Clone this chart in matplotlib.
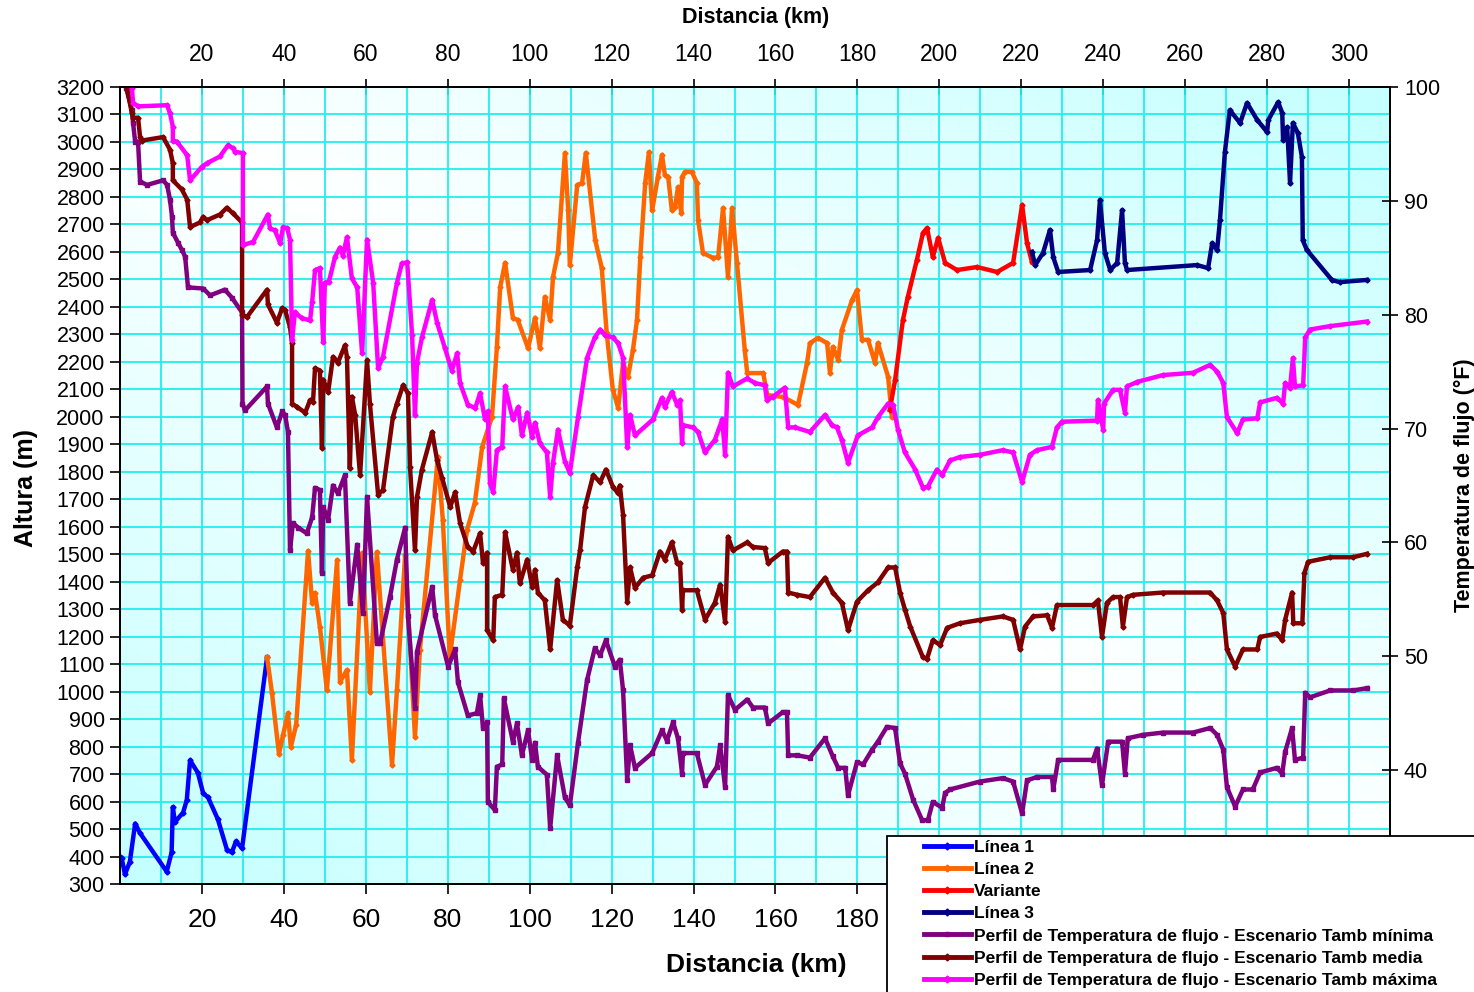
import numpy as np
import matplotlib
matplotlib.use("Agg")
import matplotlib.pyplot as plt
from matplotlib.patches import Rectangle
from matplotlib.lines import Line2D
from matplotlib.ticker import MultipleLocator

plt.rcParams['font.family'] = ['Liberation Sans', 'DejaVu Sans']

########################################################################
# data (distance in km, altitude in m, temperature in degF)

linea1_km = [0, 0.4, 1.2, 2.4, 3.7, 4.9, 11.4, 12.6, 12.9, 13.4, 15.4, 16.3, 17.1, 19.0, 20.3,
             21.5, 23.9, 26.1, 27.3, 28.3, 29.8, 35.9]
linea1_alt = [400, 395, 335, 380, 520, 485, 345, 415, 580, 525, 560, 605, 750, 705, 630,
              615, 535, 425, 415, 455, 430, 1125]

linea2_km = [35.9, 37.1, 38.8, 39.8, 41.0, 41.7, 43.0, 45.9, 46.9, 47.6, 48.8, 50.5, 53.0, 53.7,
             55.4, 56.6, 59.1, 61.0, 62.7, 66.4, 67.6, 69.6, 72.0, 73.2, 77.6, 78.8, 80.5, 83.0,
             84.7, 86.6, 88.4, 90.8, 92.0, 92.8, 94.0, 95.9, 97.1, 99.6, 101.3, 102.5, 103.7,
             105.0, 105.7, 106.9, 108.6, 109.4, 109.8, 111.6, 112.8, 113.7, 116.0, 117.6, 118.8,
             120.3, 121.6, 122.8, 124.0, 125.2, 126.2, 127.0, 128.2, 129.1, 129.9, 131.3, 132.3,
             133.0, 133.8, 134.7, 135.5, 136.2, 137.0, 137.2, 137.9, 139.6, 140.8, 141.1, 142.3,
             144.8, 146.0, 147.2, 148.4, 149.4, 150.6, 152.5, 153.1, 157.0, 158.0, 161.9, 165.5,
             167.7, 168.4, 170.4, 172.6, 173.3, 174.0, 175.3, 176.2, 178.7, 179.9, 181.1, 182.6,
             184.3, 185.0, 187.5, 188.4]
linea2_alt = [1125, 995, 773, 842, 922, 798, 879, 1512, 1322, 1359, 1235, 1006, 1479, 1035,
              1079, 751, 1504, 999, 1508, 733, 1006, 1497, 835, 1151, 1854, 1624, 1126, 1406,
              1588, 1686, 1890, 2000, 2254, 2472, 2560, 2360, 2352, 2250, 2360, 2250, 2436,
              2352, 2509, 2596, 2960, 2752, 2552, 2843, 2851, 2960, 2643, 2541, 2305,
              2098, 2032, 2196, 2145, 2243, 2352, 2581, 2851, 2963, 2752, 2873, 2953,
              2880, 2873, 2752, 2763, 2836, 2742, 2873, 2891, 2891, 2851, 2716, 2596,
              2578, 2581, 2760, 2509, 2760, 2560, 2243, 2159, 2159, 2079, 2072, 2043,
              2196, 2268, 2287, 2268, 2159, 2254, 2207, 2316, 2425, 2461, 2280, 2280,
              2196, 2268, 2145, 2000]

variante_km = [187.9, 189.2, 191.1, 192.3, 194.5, 196.0, 197.0, 198.4, 199.7, 201.4, 204.3,
               209.2, 214.1, 218.0, 220.2, 221.4, 222.6]
variante_alt = [2025, 2134, 2352, 2436, 2570, 2669, 2687, 2581, 2651, 2560, 2534,
                2545, 2527, 2560, 2771, 2632, 2563]

linea3_km = [222.6, 223.4, 225.3, 227.0, 227.8, 229.0, 236.8, 238.5, 239.2, 240.4, 241.7, 243.4,
             244.6, 245.3, 245.8, 262.9, 265.6, 266.6, 267.8, 268.5, 269.7, 270.9, 273.4, 275.1,
             277.6, 280.0, 280.3, 282.7, 283.7, 283.9, 284.9, 285.6, 286.3, 287.5, 288.5, 288.7,
             289.7, 295.8, 297.7, 304.4]
linea3_alt = [2600, 2552, 2596, 2680, 2581, 2527, 2534, 2643, 2789, 2596, 2534, 2560,
              2752, 2560, 2534, 2552, 2541, 2632, 2607, 2716, 2963, 3116, 3069, 3142,
              3080, 3036, 3080, 3145, 3105, 3007, 3054, 2851, 3069, 3033, 2945, 2643,
              2607, 2498, 2490, 2498]

tmin_km = [1.5, 2.9, 3.2, 3.7, 4.4, 4.9, 6.6, 10.5, 11.5, 12.2, 12.7, 12.9, 14.2, 15.1, 15.9,
           16.6, 20.3, 22.0, 25.6, 27.3, 29.8, 29.9, 30.5, 35.9, 36.1, 38.3, 39.6, 40.3, 41.0,
           41.5, 42.2, 43.5, 45.6, 46.9, 47.6, 48.8, 49.3, 49.6, 50.8, 52.0, 53.2, 54.9, 56.1,
           57.9, 59.3, 60.3, 62.7, 63.5, 65.9, 67.6, 69.6, 70.3, 72.0, 72.5, 76.2, 76.9, 80.1,
           81.8, 82.5, 84.9, 87.1, 87.9, 88.6, 89.6, 89.8, 91.5, 92.0, 93.3, 93.7, 95.9, 96.9,
           98.1, 99.6, 100.6, 101.3, 102.0, 104.2, 105.0, 106.7, 108.6, 109.8, 111.8, 114.0,
           115.9, 117.2, 118.6, 120.8, 122.0, 122.8, 123.8, 124.5, 125.7, 129.9, 132.3, 133.5,
           135.0, 136.2, 137.2, 137.4, 140.8, 142.8, 145.7, 146.5, 147.7, 148.4, 150.1, 153.1,
           154.5, 157.4, 158.2, 161.8, 162.8, 163.1, 165.3, 168.4, 172.1, 174.0, 175.3, 177.0,
           177.7, 179.9, 181.4, 183.6, 185.0, 187.2, 189.2, 190.4, 191.6, 193.6, 195.8, 197.2,
           198.4, 200.7, 201.4, 202.6, 209.9, 215.5, 218.0, 220.2, 221.4, 223.8, 227.5, 227.8,
           229.0, 237.5, 238.5, 239.7, 241.2, 244.6, 245.3, 246.0, 249.7, 254.6, 261.9, 266.1,
           267.8, 269.3, 270.2, 272.2, 274.1, 276.5, 278.3, 282.4, 283.7, 284.4, 286.1, 286.8,
           288.8, 289.3, 290.5, 295.4, 301.0, 304.4]
tmin_temp = [99.9, 98.0, 96.8, 95.2, 95.2, 91.7, 91.4, 91.8, 91.4, 90.1, 88.6, 87.2, 86.3, 85.7, 85.1,
             82.4, 82.3, 81.7, 82.2, 81.5, 80.2, 72.2, 71.6, 73.7, 72.2, 70.1, 71.5, 71.2, 69.7,
             59.3, 61.7, 61.3, 60.8, 62.2, 64.8, 64.6, 57.3, 63.1, 62.0, 65.0, 64.3, 65.9, 54.7,
             59.8, 53.8, 64.0, 51.2, 51.2, 55.2, 58.5, 61.3, 53.5, 45.5, 50.4, 56.1, 53.6, 49.1,
             50.6, 47.7, 44.8, 45.0, 46.6, 43.7, 44.2, 37.2, 36.5, 40.3, 40.5, 46.3, 42.5, 44.1,
             41.3, 43.5, 40.9, 42.4, 40.3, 39.6, 34.9, 41.3, 37.6, 36.9, 42.4, 47.9,
             50.7, 50.1, 51.4, 49.1, 49.7, 47.0, 39.1, 42.2, 40.2, 41.5, 43.5, 42.6,
             44.2, 42.8, 39.7, 41.5, 41.5, 38.7, 40.3, 42.2, 38.5, 46.6, 45.3, 46.2,
             45.5, 45.5, 44.1, 45.1, 45.1, 41.3, 41.3, 41.1, 42.8, 41.2, 40.2, 40.2,
             37.8, 40.7, 40.5, 41.8, 42.5, 43.8, 43.7, 40.6, 39.7, 37.4, 35.6, 35.6,
             37.2, 36.7, 38.0, 38.3, 39.0, 39.3, 39.0, 36.2, 39.1, 39.4, 39.4, 38.3,
             40.9, 40.9, 41.9, 38.7, 42.5, 42.5, 39.7, 42.8, 43.1, 43.3, 43.3, 43.7,
             43.1, 41.8, 38.5, 36.8, 38.3, 38.3, 39.8, 40.2, 39.7, 41.6, 43.7, 40.9,
             41.1, 46.8, 46.4, 47.0, 47.0, 47.2]

tmed_km = [1.7, 2.9, 3.2, 4.4, 4.9, 5.4, 10.5, 12.2, 12.9, 12.9, 15.1, 16.4, 17.1, 19.5, 20.3,
           21.2, 24.4, 26.1, 27.6, 29.8, 29.8, 31.0, 35.9, 36.1, 38.3, 39.6, 40.3, 41.5, 42.0,
           42.0, 43.2, 45.2, 46.4, 47.1, 47.6, 48.8, 49.3, 49.6, 50.8, 52.0, 53.2, 54.9, 55.4,
           56.1, 56.6, 57.4, 58.6, 60.3, 61.0, 63.0, 64.2, 66.6, 67.6, 69.1, 70.3, 70.8, 72.0,
           72.5, 73.7, 76.2, 77.4, 78.6, 80.6, 81.8, 83.0, 84.9, 86.2, 87.9, 88.6, 89.6, 89.6,
           91.1, 91.5, 93.3, 94.0, 95.9, 96.9, 97.6, 99.4, 100.6, 101.3, 102.0, 103.7, 105.0,
           106.7, 108.1, 109.8, 111.6, 112.3, 113.5, 115.5, 117.2, 118.6, 120.3, 121.6, 122.0,
           122.8, 123.8, 124.5, 125.7, 127.7, 129.9, 131.8, 133.0, 134.7, 136.0, 136.7, 137.2,
           137.4, 140.8, 142.8, 145.2, 146.5, 147.7, 148.4, 149.6, 153.1, 154.5, 157.4, 158.2,
           161.8, 162.8, 163.1, 165.3, 168.4, 172.1, 174.0, 176.2, 177.7, 179.9, 182.6, 185.0,
           187.5, 189.2, 190.4, 191.6, 192.9, 196.0, 197.0, 198.4, 200.2, 201.9, 205.0, 209.9,
           215.5, 218.0, 219.7, 220.9, 222.9, 226.3, 227.5, 228.7, 237.5, 238.7, 239.7, 240.9,
           242.4, 244.1, 244.8, 245.8, 247.3, 254.6, 266.1, 267.8, 269.3, 270.2, 272.2, 274.1,
           277.6, 278.3, 282.4, 283.7, 284.4, 286.1, 286.4, 288.6, 289.1, 290.0, 295.4, 301.0,
           304.4]
tmed_temp = [99.9, 97.7, 97.3, 97.3, 95.6, 95.3, 95.6, 94.5, 93.3, 91.8, 91.0, 90.1, 87.7, 88.1, 88.6,
             88.3, 88.8, 89.4, 88.9, 88.1, 80.0, 79.8, 82.2, 80.9, 79.3, 80.6, 80.4, 78.9, 77.5,
             72.2, 71.9, 71.4, 72.5, 72.3, 75.3, 75.1, 68.3, 74.3, 73.2, 76.3, 75.8, 77.3, 76.3,
             66.5, 72.8, 71.2, 65.9, 76.0, 72.2, 64.2, 64.6, 71.0, 72.2, 73.8, 73.1, 66.6, 59.3,
             64.0, 66.4, 69.7, 67.2, 65.7, 63.1, 64.4, 61.7, 59.6, 59.2, 60.8, 58.2, 59.1, 52.3,
             51.4, 55.2, 55.4, 60.9, 57.6, 59.1, 56.4, 58.5, 56.1, 57.6, 55.6, 54.9, 50.6,
             56.7, 53.2, 52.7, 57.8, 59.3, 63.1, 65.9, 65.3, 66.4, 64.9, 64.3, 65.0,
             62.4, 54.8, 57.8, 56.0, 56.9, 57.1, 59.2, 58.5, 60.0, 58.2, 58.2, 54.1,
             55.8, 55.8, 53.2, 54.7, 56.3, 53.0, 60.5, 59.3, 60.0, 59.6, 59.5, 58.2,
             59.2, 59.2, 55.6, 55.4, 55.2, 56.9, 55.6, 54.7, 52.3, 54.8, 55.8, 56.5,
             57.8, 57.8, 55.6, 54.1, 52.6, 49.9, 49.8, 51.4, 51.0, 52.5, 52.9, 53.2,
             53.5, 53.2, 50.6, 52.6, 53.5, 53.6, 52.5, 54.5, 54.5, 54.9, 51.7, 54.7,
             55.2, 55.2, 52.6, 55.2, 55.4, 55.6, 55.6, 54.9, 53.8, 50.6, 49.1, 50.6,
             50.6, 51.7, 52.0, 51.4, 53.2, 55.6, 52.9, 52.9, 57.3, 58.3, 58.7, 58.7,
             59.0]

tmax_km = [2.9, 3.2, 4.4, 11.5, 12.2, 12.9, 12.9, 13.9, 16.4, 17.1, 20.0, 21.2, 24.4, 26.4, 27.6,
           28.1, 30.0, 30.0, 32.5, 36.1, 36.6, 37.8, 39.1, 39.8, 40.8, 41.5, 42.0, 42.7, 44.4,
           46.4, 46.9, 47.6, 48.8, 49.6, 50.0, 51.0, 52.5, 53.7, 54.4, 55.4, 56.6, 57.9, 59.1,
           60.3, 61.8, 63.0, 64.2, 67.6, 68.8, 70.1, 71.3, 72.0, 72.5, 73.7, 76.2, 77.4, 79.3,
           81.0, 82.3, 83.0, 84.9, 86.7, 87.9, 89.1, 89.8, 90.3, 91.1, 92.0, 93.3, 94.0, 95.9,
           97.2, 98.1, 99.4, 100.6, 101.3, 102.5, 104.2, 105.0, 105.7, 106.9, 108.6, 109.8,
           111.8, 114.0, 115.9, 117.2, 118.4, 120.3, 121.6, 122.8, 123.8, 124.5, 125.7, 130.1,
           132.3, 133.0, 134.7, 136.0, 136.7, 137.2, 137.4, 139.9, 141.1, 142.8, 145.2, 147.0,
           147.7, 148.4, 149.6, 153.1, 155.0, 157.4, 157.9, 159.4, 162.3, 163.1, 164.8, 168.4,
           172.1, 173.8, 175.0, 176.2, 177.7, 180.1, 183.6, 185.0, 187.5, 188.7, 189.9, 191.6,
           194.1, 196.0, 197.2, 199.4, 200.7, 202.6, 205.0, 209.9, 215.5, 218.0, 220.2, 222.1,
           223.8, 227.5, 228.7, 229.9, 238.5, 238.7, 240.0, 240.2, 242.4, 244.1, 245.3, 245.8,
           248.3, 254.6, 261.9, 266.1, 267.8, 269.3, 270.2, 272.7, 274.1, 277.6, 278.3, 282.4,
           283.9, 284.4, 285.6, 286.3, 286.8, 288.8, 289.3, 290.5, 295.4, 304.4]
tmax_temp = [99.9, 98.6, 98.3, 98.4, 97.7, 96.5, 95.3, 95.2, 94.0, 91.8, 93.0, 93.3, 93.9, 94.9, 94.6,
             94.3, 94.2, 86.1, 86.4, 88.8, 87.6, 87.4, 86.3, 87.7, 87.6, 86.6, 77.8, 80.2, 79.7,
             79.5, 81.1, 83.9, 84.1, 77.6, 82.8, 82.9, 85.1, 85.9, 85.2, 86.8, 83.2, 82.4, 76.6,
             86.6, 82.8, 75.3, 76.3, 82.8, 84.5, 84.6, 78.2, 71.2, 75.8, 78.0, 81.3, 79.3, 77.1,
             75.1, 76.6, 74.0, 72.1, 71.8, 73.1, 70.8, 71.5, 65.2, 64.4, 68.1, 68.4, 73.7, 70.8,
             71.9, 69.4, 71.4, 69.3, 70.5, 68.7, 67.9, 64.0, 67.0, 69.9, 67.1, 66.1,
             71.0, 76.2, 78.0, 78.7, 78.2, 78.0, 77.5, 76.2, 68.4, 71.2, 69.4, 70.8,
             72.7, 71.9, 73.2, 72.1, 72.5, 68.7, 70.3, 70.1, 69.7, 67.9, 69.0, 70.8,
             67.7, 74.9, 73.7, 74.4, 74.0, 73.8, 72.5, 72.8, 73.6, 70.1, 70.1, 69.7,
             71.2, 70.3, 70.1, 69.0, 67.0, 69.4, 70.1, 71.0, 72.2, 72.1, 69.9, 67.9,
             66.4, 64.8, 64.9, 66.4, 65.9, 67.2, 67.5, 67.7, 68.1, 67.9, 65.3, 67.7,
             68.1, 68.4, 70.1, 70.6, 70.7, 72.5, 69.9, 72.2, 73.4, 73.4, 71.4, 73.7,
             74.1, 74.7, 74.9, 75.6, 75.0, 74.0, 71.0, 69.6, 70.8, 70.9, 72.3, 72.7,
             72.2, 74.0, 73.6, 76.2, 73.7, 73.8, 78.0, 78.7, 79.0, 79.4]

series_names = ['Línea 1', 'Línea 2', 'Variante', 'Línea 3',
                'Perfil de Temperatura de flujo - Escenario Tamb mínima',
                'Perfil de Temperatura de flujo - Escenario Tamb media',
                'Perfil de Temperatura de flujo - Escenario Tamb máxima']

x_top_ticks = list(range(20, 301, 20))
x_bottom_ticks = list(range(20, 301, 20))
# the legend box hides the bottom labels past 180 km
x_bottom_labels = [str(k) if k <= 180 else '' for k in x_bottom_ticks]
alt_ticks = list(range(300, 3201, 100))
temp_ticks = list(range(30, 101, 10))

########################################################################
# figure

W, H = 1474, 992
fig = plt.figure(figsize=(W / 100, H / 100), dpi=100)
ax = fig.add_axes([120 / W, 1 - 884 / H, 1270 / W, 797 / H])

# diagonal gradient background (cyan corners, white along the other diagonal)
u, v = np.meshgrid(np.linspace(0, 1, 300), np.linspace(0, 1, 300))
t = np.clip(np.abs(u + v - 1.0) * 1.05, 0, 1)
cyan = np.array([0.78, 1.0, 1.0])
white = np.array([1.0, 1.0, 1.0])
grad = white[None, None, :] * (1 - t[..., None]) + cyan[None, None, :] * t[..., None]
ax.imshow(grad, extent=(0, 310, 300, 3200), origin='lower', aspect='auto', zorder=0)

ax.set_xlim(0, 310)
ax.set_ylim(300, 3200)
ax.set_axisbelow(True)
ax.xaxis.set_minor_locator(MultipleLocator(10))
ax.set_xticks(x_bottom_ticks, x_bottom_labels)
ax.set_yticks(alt_ticks)
ax.grid(True, which='both', color='#22eeee', lw=1.3)
ax.tick_params(axis='x', which='minor', length=0)
ax.tick_params(axis='x', which='major', direction='out', length=7, width=1.2, labelsize=19, pad=10)
ax.tick_params(axis='y', direction='out', length=7, width=1.2, labelsize=15.5, pad=4)
for s in ax.spines.values():
    s.set_linewidth(1.3)

lw = 3.2
ms = 2.6
ax.plot(linea1_km, linea1_alt, color='#0000ff', lw=lw, marker='D', ms=ms, zorder=3)
ax.plot(linea2_km, linea2_alt, color='#ff6600', lw=lw, marker='D', ms=ms, zorder=3)
ax.plot(variante_km, variante_alt, color='#ff0000', lw=lw, marker='D', ms=ms, zorder=3)
ax.plot(linea3_km, linea3_alt, color='#000080', lw=lw, marker='D', ms=ms, zorder=3)

ax2 = ax.twinx()
ax2.set_ylim(30, 100)
ax2.set_yticks(temp_ticks)
ax2.tick_params(axis='y', direction='inout', length=12, width=1.2, labelsize=15.5, pad=4)
ax2.plot(tmin_km, tmin_temp, color='#800080', lw=lw, marker='s', ms=ms)
ax2.plot(tmed_km, tmed_temp, color='#800000', lw=lw, marker='D', ms=ms)
ax2.plot(tmax_km, tmax_temp, color='#ff00ff', lw=lw, marker='D', ms=ms)
for s in ax2.spines.values():
    s.set_linewidth(1.3)

top = ax.secondary_xaxis('top')
top.set_xticks(x_top_ticks)
top.tick_params(direction='inout', length=12, width=1.2, labelsize=16.5, pad=9)
top.spines['top'].set_linewidth(1.3)

fig.text(756 / W, 1 - 17 / H, 'Distancia (km)', ha='center', va='center', fontsize=15.5, fontweight='bold')
fig.text(756 / W, 1 - 965 / H, 'Distancia (km)', ha='center', va='center', fontsize=19, fontweight='bold')
fig.text(26 / W, 1 - 488 / H, 'Altura (m)', ha='center', va='center', rotation=90, fontsize=18,
         fontweight='bold')
fig.text(1464 / W, 1 - 485 / H, 'Temperatura de flujo (°F)', ha='center', va='center', rotation=90,
         fontsize=15.5, fontweight='bold')

# legend box, sitting over the bottom right corner of the plot
box = Rectangle((887 / W, -0.01), (W - 887) / W + 0.01, (992 - 836) / H + 0.01,
                transform=fig.transFigure, facecolor='white', edgecolor='black', lw=1.3, zorder=5)
fig.add_artist(box)

colors = ['#0000ff', '#ff6600', '#ff0000', '#000080', '#800080', '#800000', '#ff00ff']
markers = ['D', 'D', 'D', 'D', 's', 'D', 'D']
handles = [Line2D([], [], color=c, lw=3.5, marker=m, ms=3.5) for c, m in zip(colors, markers)]
leg = fig.legend(handles, series_names, loc='upper left', bbox_to_anchor=(924 / W, 1 - 840 / H),
                 frameon=False, prop={'weight': 'bold', 'size': 12.5}, handlelength=2.7,
                 handletextpad=0.17, labelspacing=0.4, borderpad=0.0, borderaxespad=0.0)
leg.set_zorder(6)

fig.savefig('out.png', dpi=100)
